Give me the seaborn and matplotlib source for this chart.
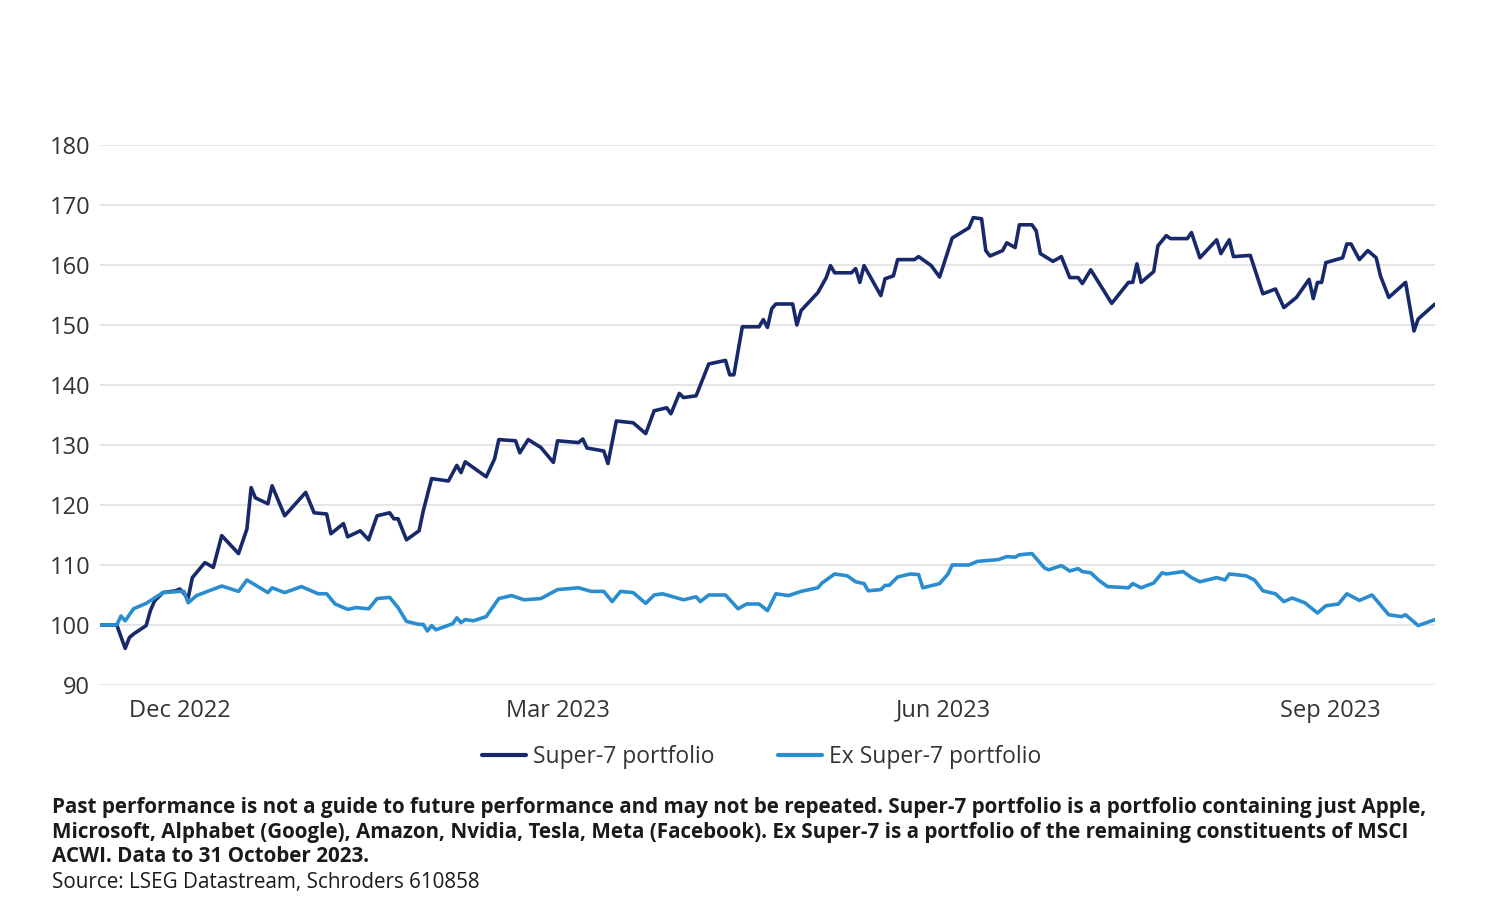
import pandas as pd
import matplotlib
matplotlib.use("Agg")
import matplotlib.pyplot as plt
import matplotlib.dates as mdates
import seaborn as sns

# -------------------------
# DATA (rebased to 100)
# -------------------------
start_date = "2022-11-12"

super7_days = [0, 4, 6, 7, 8, 11, 12, 13, 15, 18, 19, 21, 22, 25, 27, 29, 33, 35, 36, 37,
               40, 41, 44, 49, 51, 54, 55, 58, 59, 62, 64, 66, 69, 70, 71, 73, 76, 77, 79, 83,
               85, 86, 87, 92, 94, 95, 99, 100, 102, 105, 108, 109, 114, 115, 116, 120, 121, 123, 127, 130,
               132, 135, 136, 138, 139, 142, 145, 149, 150, 151, 153, 157, 158, 159, 160, 161, 165, 166, 167, 171,
               173, 174, 175, 179, 180, 181, 182, 184, 186, 187, 189, 190, 194, 195, 198, 200, 203, 207, 208, 210,
               211, 212, 215, 216, 218, 219, 222, 223, 224, 227, 229, 231, 233, 234, 236, 241, 245, 246, 247, 248,
               251, 252, 254, 255, 259, 260, 262, 266, 267, 269, 270, 274, 277, 280, 282, 285, 288, 289, 290, 291,
               292, 296, 297, 298, 300, 302, 304, 305, 307, 311, 313, 314, 318]
super7_values = [100, 100, 96.1, 97.9, 98.5, 99.9, 102.4, 104, 105.4, 105.7, 106, 104.5, 107.9, 110.4, 109.6, 114.9, 111.9, 116, 122.9, 121.2,
                 120.2, 123.2, 118.2, 122.1, 118.7, 118.5, 115.2, 116.9, 114.7, 115.7, 114.2, 118.2, 118.7, 117.7, 117.7, 114.2, 115.7, 119, 124.4, 124,
                 126.6, 125.4, 127.2, 124.7, 127.7, 130.9, 130.7, 128.7, 130.9, 129.6, 127.1, 130.7, 130.4, 131, 129.5, 129, 126.9, 134, 133.7, 131.9,
                 135.7, 136.2, 135.2, 138.6, 137.9, 138.2, 143.5, 144.1, 141.7, 141.7, 149.7, 149.7, 150.9, 149.6, 152.7, 153.5, 153.5, 150, 152.4, 155.4,
                 157.9, 159.9, 158.7, 158.7, 159.4, 157.1, 159.9, 157.4, 154.9, 157.7, 158.2, 160.9, 160.9, 161.4, 159.9, 158, 164.5, 166.2, 167.9, 167.7,
                 162.4, 161.5, 162.4, 163.7, 162.9, 166.7, 166.7, 165.7, 161.9, 160.6, 161.4, 157.9, 157.9, 156.9, 159.2, 153.6, 157.1, 157.1, 160.2, 157.1,
                 158.9, 163.2, 164.9, 164.4, 164.4, 165.4, 161.2, 164.2, 161.9, 164.2, 161.4, 161.6, 155.2, 156, 152.9, 154.6, 157.6, 154.4, 157.1, 157.1,
                 160.4, 161.2, 163.5, 163.5, 160.9, 162.4, 161.2, 158.2, 154.6, 157.1, 149, 151, 153.5]

ex_days = [0, 4, 5, 6, 8, 11, 15, 19, 20, 21, 23, 26, 29, 33, 35, 40, 41, 44, 48, 52,
           54, 56, 59, 61, 64, 66, 69, 71, 73, 76, 77, 78, 79, 80, 84, 85, 86, 87, 89, 92,
           95, 98, 101, 105, 109, 114, 117, 120, 122, 124, 127, 130, 132, 134, 139, 142, 143, 145, 149, 152,
           154, 157, 159, 161, 164, 167, 171, 172, 175, 178, 180, 182, 183, 186, 187, 188, 190, 193, 195, 196,
           200, 202, 203, 207, 209, 214, 216, 218, 219, 222, 225, 226, 229, 231, 233, 234, 236, 238, 240, 245,
           246, 248, 251, 253, 254, 258, 260, 262, 266, 268, 269, 273, 275, 277, 280, 282, 284, 287, 290, 292,
           295, 297, 300, 303, 307, 310, 311, 314, 318]
ex_values = [100, 100, 101.5, 100.7, 102.7, 103.6, 105.4, 105.6, 105.6, 103.7, 104.9, 105.7, 106.5, 105.6, 107.5, 105.4, 106.2, 105.4, 106.4, 105.2,
             105.2, 103.5, 102.6, 102.9, 102.7, 104.4, 104.6, 102.9, 100.6, 100.1, 100.1, 99, 99.9, 99.2, 100.2, 101.2, 100.4, 100.9, 100.7, 101.4,
             104.4, 104.9, 104.2, 104.4, 105.9, 106.2, 105.6, 105.6, 103.9, 105.6, 105.4, 103.6, 105, 105.2, 104.2, 104.7, 103.9, 105, 105, 102.7,
             103.5, 103.5, 102.4, 105.2, 104.9, 105.6, 106.2, 107, 108.5, 108.2, 107.2, 106.9, 105.7, 105.9, 106.6, 106.6, 108, 108.5, 108.4, 106.2,
             106.9, 108.5, 110, 110, 110.6, 110.9, 111.4, 111.3, 111.7, 111.9, 109.5, 109.2, 109.9, 109, 109.4, 108.9, 108.7, 107.4, 106.4, 106.2,
             106.9, 106.2, 107, 108.7, 108.5, 108.9, 107.9, 107.2, 107.9, 107.5, 108.5, 108.2, 107.5, 105.7, 105.2, 103.9, 104.5, 103.7, 102, 103.2,
             103.5, 105.2, 104.1, 105, 101.7, 101.4, 101.7, 99.9, 100.9]

series_names = ["Super-7 portfolio", "Ex Super-7 portfolio"]
colors = ["#17296a", "#2a8dd0"]
y_ticks = [90, 100, 110, 120, 130, 140, 150, 160, 170, 180]

# build long-form table
start = pd.Timestamp(start_date)
df = pd.concat([
    pd.DataFrame({"Date": start + pd.to_timedelta(super7_days, unit="D"),
                  "Value": super7_values, "Series": series_names[0]}),
    pd.DataFrame({"Date": start + pd.to_timedelta(ex_days, unit="D"),
                  "Value": ex_values, "Series": series_names[1]}),
])

# -------------------------
# PLOT
# -------------------------
sns.set_theme(style="white")
plt.rcParams['font.family'] = ['Open Sans', 'DejaVu Sans']

fig = plt.figure(figsize=(14.99, 9.16), dpi=100)
ax = fig.add_axes([0.0667, 0.2522, 0.8906, 0.5895])

sns.lineplot(data=df, x="Date", y="Value", hue="Series", palette=colors,
             hue_order=series_names, linewidth=2.6, ax=ax, legend=False)

ax.set_ylim(90, 180)
ax.set_yticks(y_ticks)
ax.set_xlim(start, start + pd.Timedelta(days=318))
ax.xaxis.set_major_locator(mdates.MonthLocator(bymonth=[12, 3, 6, 9]))
ax.xaxis.set_major_formatter(mdates.DateFormatter("%b %Y"))
ax.grid(axis="y", color="#e3e3e3", linewidth=1.3)
ax.grid(axis="x", visible=False)
for s in ax.spines.values():
    s.set_visible(False)
ax.tick_params(axis="both", length=0, labelsize=17, labelcolor="#333333")
ax.tick_params(axis="y", pad=7)
ax.tick_params(axis="x", pad=10)
ax.set_xlabel("")
ax.set_ylabel("")

# legend
handles = [plt.Line2D([], [], color=c, linewidth=3) for c in colors]
fig.legend(handles, series_names, loc="center", bbox_to_anchor=(0.508, 0.174),
           ncol=2, frameon=False, fontsize=16.5, handlelength=1.9, handletextpad=0.3,
           columnspacing=2.8, labelcolor="#333333")

# footnote
note = ("Past performance is not a guide to future performance and may not be repeated. "
        "Super-7 portfolio is a portfolio containing just Apple,\n"
        "Microsoft, Alphabet (Google), Amazon, Nvidia, Tesla, Meta (Facebook). "
        "Ex Super-7 is a portfolio of the remaining constituents of MSCI\n"
        "ACWI. Data to 31 October 2023.")
fig.text(0.0347, 0.0917, note, ha="left", va="center", fontsize=14.9,
         fontweight="bold", color="#1a1a1a", linespacing=1.22)
fig.text(0.0347, 0.037, "Source: LSEG Datastream, Schroders 610858", ha="left",
         va="center", fontsize=14.9, color="#1a1a1a")

fig.savefig("out.png", dpi=100)
